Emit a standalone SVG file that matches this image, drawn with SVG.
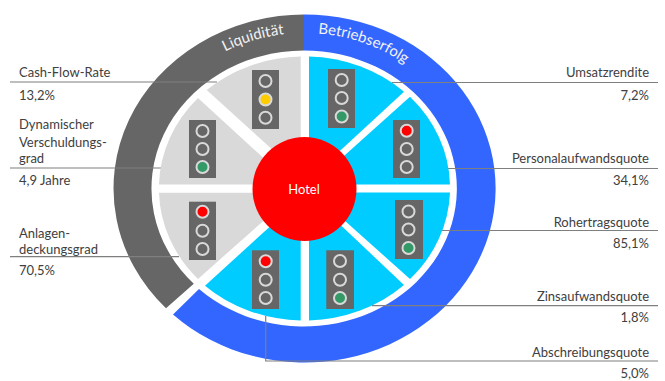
<svg xmlns="http://www.w3.org/2000/svg" width="665" height="381" viewBox="0 0 665 381">
<style>
text{font-family:"Lato","Carlito","Open Sans",sans-serif;font-size:13px;fill:#404040}
.r{text-anchor:end}
.c{fill:none;stroke:#7f7f7f;stroke-width:1.2}
.g{fill:#d9d9d9}
.b{fill:#00ccff}
.box{fill:#666}
.off,.red,.yel,.grn{stroke:#d9d9d9;stroke-width:2}
.off{fill:#666}.red{fill:#f00}.yel{fill:#fc0}.grn{fill:#396}
.arc{fill:#f2f2f2;font-size:15px}
</style>
<defs>
<path id="pl" d="M136.500 188.500A168 155.500 0 0 1 284 34.200"/>
<path id="pb" d="M318 33.500A168 155.500 0 0 1 472.500 188.500"/>
</defs>
<rect width="665" height="381" fill="#fff"/>
<g id="ring-liquiditaet">
<path d="M304 14.500A191 174 0 0 0 166 308.300L193.800 283.800A153 138 0 0 1 304 50.500Z" fill="#666"/>
<text class="arc"><textPath href="#pl" startOffset="100%" text-anchor="end">Liquidität</textPath></text>
</g>
<g id="ring-betriebserfolg">
<path d="M304 14.500A191 174 0 1 1 173 314.600L199 289A153 138 0 1 0 304 50.500Z" fill="#36f"/>
<text class="arc"><textPath href="#pb">Betriebserfolg</textPath></text>
</g>
<g id="connectors">
<path class="c" d="M10 82H217"/>
<path class="c" d="M10 168H162"/>
<path class="c" d="M10 256.700H179"/>
<path class="c" d="M392 82.500H658"/>
<path class="c" d="M448 168.500H658"/>
<path class="c" d="M442 230.500H658"/>
<path class="c" d="M372 305.700H658"/>
<path class="c" d="M265.700 316V361H658"/>
</g>
<g id="sektoren">
<path class="g" d="M300.700 56.600A145.500 132 0 0 0 206.700 90L285 161H300.700Z"/>
<path class="g" d="M198 98A145.500 132 0 0 0 159 184.500H290L270 164Z"/>
<path class="g" d="M159 192.700A145.500 132 0 0 0 198 279L270 215V192.700Z"/>
<path class="b" d="M205 285.700A145.500 132 0 0 0 300.700 320.400V222H275Z"/>
<path class="b" d="M309 320.400A145.500 132 0 0 0 404 285L330 215H309Z"/>
<path class="b" d="M410 279A145.500 132 0 0 0 450 192.500H330L335 212Z"/>
<path class="b" d="M450 184.500A145.500 132 0 0 0 410 96.700L335 164L330 184.500Z"/>
<path class="b" d="M309 56.600A145.500 132 0 0 1 404 91.700L330 160H309Z"/>
</g>
<g id="hotel">
<circle cx="304.500" cy="189" r="52" fill="#f00"/>
<text x="304" y="194" text-anchor="middle" style="fill:#fff">Hotel</text>
</g>
<g id="ampel-cashflow"><rect class="box" x="252" y="70" width="27" height="59"/><circle class="off" cx="265.500" cy="81" r="6"/><circle class="yel" cx="265.500" cy="99.500" r="6"/><circle class="off" cx="265.500" cy="117.700" r="6"/></g>
<g id="ampel-verschuldung"><rect class="box" x="189" y="120" width="27" height="58"/><circle class="off" cx="202.500" cy="131" r="6"/><circle class="off" cx="202.500" cy="149" r="6"/><circle class="grn" cx="202.500" cy="167" r="6"/></g>
<g id="ampel-anlagen"><rect class="box" x="189" y="201.700" width="27" height="58.300"/><circle class="red" cx="202.500" cy="211.700" r="6"/><circle class="off" cx="202.500" cy="230.700" r="6"/><circle class="off" cx="202.500" cy="249" r="6"/></g>
<g id="ampel-abschreibung"><rect class="box" x="252" y="250.300" width="27" height="58.700"/><circle class="red" cx="265.700" cy="261.300" r="6"/><circle class="off" cx="265.700" cy="279.700" r="6"/><circle class="off" cx="265.700" cy="298" r="6"/></g>
<g id="ampel-zins"><rect class="box" x="326.300" y="250.300" width="27.700" height="58.700"/><circle class="off" cx="340" cy="261" r="6"/><circle class="off" cx="340" cy="279.700" r="6"/><circle class="grn" cx="340" cy="298" r="6"/></g>
<g id="ampel-rohertrag"><rect class="box" x="395" y="200" width="28" height="59"/><circle class="off" cx="408.500" cy="211.500" r="6"/><circle class="off" cx="408.500" cy="229.500" r="6"/><circle class="grn" cx="408.500" cy="248" r="6"/></g>
<g id="ampel-personal"><rect class="box" x="393" y="120" width="27" height="58"/><circle class="red" cx="406.700" cy="130.700" r="6"/><circle class="off" cx="406.700" cy="149" r="6"/><circle class="off" cx="406.700" cy="167" r="6"/></g>
<g id="ampel-umsatz"><rect class="box" x="328" y="69" width="27" height="59"/><circle class="off" cx="341.700" cy="80" r="6"/><circle class="off" cx="341.700" cy="98" r="6"/><circle class="grn" cx="341.700" cy="116.500" r="6"/></g>
<g id="label-cashflow"><text x="19" y="76.700">Cash-Flow-Rate</text><text x="19" y="100">13,2%</text></g>
<g id="label-verschuldung"><text x="19" y="129">Dynamischer</text><text x="19" y="146.700">Verschuldungs-</text><text x="19" y="163">grad</text><text x="19" y="185">4,9 Jahre</text></g>
<g id="label-anlagen"><text x="19" y="238">Anlagen-</text><text x="19" y="254">deckungsgrad</text><text x="19" y="275">70,5%</text></g>
<g id="label-umsatz"><text class="r" x="649" y="76.700">Umsatzrendite</text><text class="r" x="649" y="100">7,2%</text></g>
<g id="label-personal"><text class="r" x="649" y="162.700">Personalaufwandsquote</text><text class="r" x="649" y="185">34,1%</text></g>
<g id="label-rohertrag"><text class="r" x="649" y="227">Rohertragsquote</text><text class="r" x="649" y="248">85,1%</text></g>
<g id="label-zins"><text class="r" x="649" y="301">Zinsaufwandsquote</text><text class="r" x="649" y="322">1,8%</text></g>
<g id="label-abschreibung"><text class="r" x="649" y="357">Abschreibungsquote</text><text class="r" x="649" y="378">5,0%</text></g>
</svg>
